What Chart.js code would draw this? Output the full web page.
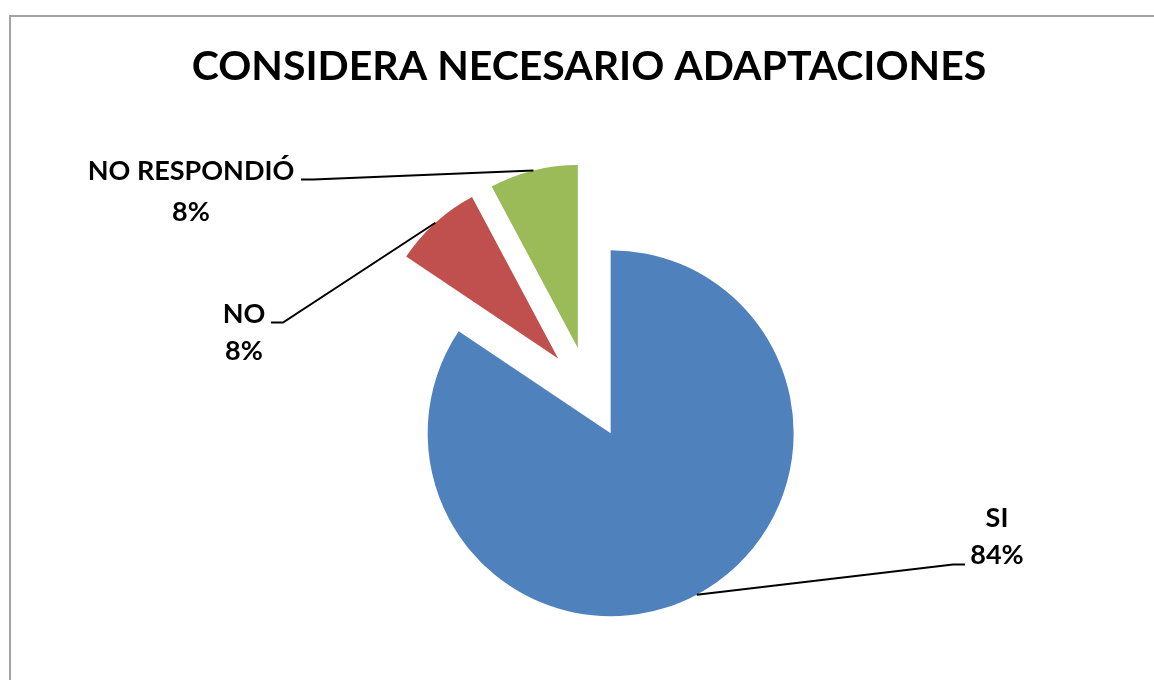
<!DOCTYPE html>
<html>
<head>
<meta charset="utf-8">
<script src="https://cdn.jsdelivr.net/npm/chart.js@4.4.0/dist/chart.umd.min.js"></script>
<style>
  html, body { margin: 0; padding: 0; background: #fff; overflow: hidden; }
  #frame { position: absolute; left: 9px; top: 15px; width: 1300px; height: 800px;
           border-left: 2px solid #a3a3a3; border-top: 2px solid #a3a3a3; }
  #wrap { position: absolute; left: 0; top: 0; width: 1154px; height: 720px; }
</style>
</head>
<body>
<div id="frame"></div>
<div id="wrap"><canvas id="chart" width="1154" height="720"></canvas></div>
<script>
const categories = ['SI', 'NO', 'NO RESPONDIÓ'];
const percentages = [84.4, 7.8, 7.8];
const sliceColors = ['#4F81BD', '#C0504D', '#9BBB59'];

// layout, pixels relative to the pie centre
const pieRadius = 183;
const explode = 46;
const leaderEnds = [[376, 172], [-318, -70], [-288, -213]];
const labelCenters = [[408, 144], [-345, -60], [-398, -201]];
const labelLineGap = [37.5, 37.5, 41.5];

function pieCentre(chart) {
    const {left, right, top, bottom} = chart.chartArea;
    return [(left + right) / 2, (top + bottom) / 2];
}

// Excel-style explosion: every slice pushed out along its middle angle.
// (chart.js's own offset option also narrows and grows the arcs, which Excel doesn't do)
const explodeSlices = {
    id: 'explodeSlices',
    beforeDatasetsDraw(chart) {
        const [cx, cy] = pieCentre(chart);
        chart.getDatasetMeta(0).data.forEach(arc => {
            const mid = (arc.startAngle + arc.endAngle) / 2;
            arc.x = cx + Math.cos(mid) * explode;
            arc.y = cy + Math.sin(mid) * explode;
        });
    }
};

// category + percentage labels with leader lines
const pieLabels = {
    id: 'pieLabels',
    afterDatasetsDraw(chart) {
        const ctx = chart.ctx;
        const [cx, cy] = pieCentre(chart);
        const meta = chart.getDatasetMeta(0);
        const total = percentages.reduce((a, b) => a + b, 0);
        ctx.save();
        ctx.font = 'bold 27px Lato';
        ctx.fillStyle = '#000';
        ctx.strokeStyle = '#000';
        ctx.lineWidth = 2;
        meta.data.forEach((arc, i) => {
            const mid = (arc.startAngle + arc.endAngle) / 2;
            const sx = arc.x + Math.cos(mid) * arc.outerRadius;
            const sy = arc.y + Math.sin(mid) * arc.outerRadius;
            const ex = cx + leaderEnds[i][0];
            const ey = cy + leaderEnds[i][1];
            const elbow = ex > cx ? -12 : 12;
            ctx.beginPath();
            ctx.moveTo(sx, sy);
            ctx.lineTo(ex + elbow, ey);
            ctx.lineTo(ex, ey);
            ctx.stroke();

            const pct = Math.round(percentages[i] / total * 100) + '%';
            const lx = cx + labelCenters[i][0];
            const ly = cy + labelCenters[i][1];
            ctx.textAlign = 'center';
            ctx.textBaseline = 'middle';
            ctx.fillText(categories[i], lx, ly - labelLineGap[i] / 2);
            ctx.fillText(pct, lx, ly + labelLineGap[i] / 2);
        });
        ctx.restore();
    }
};

new Chart(document.getElementById('chart'), {
    type: 'pie',
    data: {
        labels: categories,
        datasets: [{
            data: percentages,
            backgroundColor: sliceColors,
            borderWidth: 0,
            hoverOffset: 0
        }]
    },
    options: {
        responsive: false,
        animation: false,
        radius: pieRadius,
        layout: { padding: { left: 24, right: 0, top: 0, bottom: 26 } },
        events: [],
        plugins: {
            legend: { display: false },
            tooltip: { enabled: false },
            title: {
                display: true,
                text: 'CONSIDERA NECESARIO ADAPTACIONES',
                color: '#000',
                font: { family: 'Lato', size: 41, weight: 'bold', lineHeight: 1.2 },
                padding: { top: 42, bottom: 0 }
            }
        }
    },
    plugins: [explodeSlices, pieLabels]
});
</script>
</body>
</html>
